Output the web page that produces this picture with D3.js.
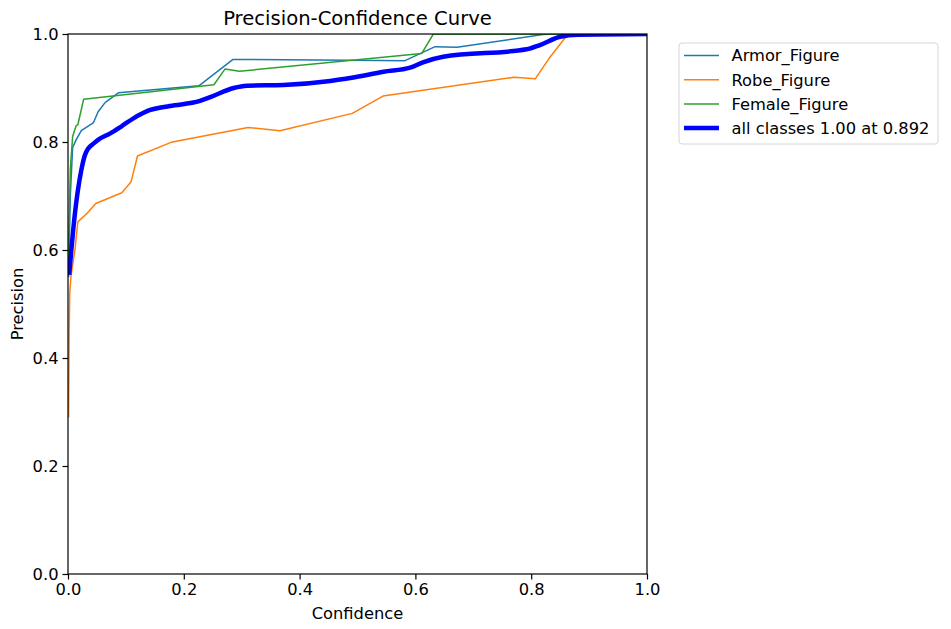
<!DOCTYPE html>
<html>
<head>
<meta charset="utf-8">
<script src="https://cdn.jsdelivr.net/npm/d3@7"></script>
<style>
  body { margin: 0; background: #fff; }
  text { font-family: "DejaVu Sans", sans-serif; fill: #000; }
</style>
</head>
<body>
<div id="chart"></div>
<script>
// confidence / precision pairs
const armorConf = [0.001, 0.004, 0.008, 0.014, 0.023, 0.044, 0.052, 0.064, 0.087, 0.226, 0.285, 0.540, 0.582, 0.634, 0.672, 0.820, 0.840, 1.0];
const armorPrec = [0.55, 0.70, 0.79, 0.804, 0.821, 0.836, 0.856, 0.873, 0.891, 0.904, 0.953, 0.951, 0.9506, 0.9765, 0.9755, 0.999, 1.0, 1.0];

const robeConf = [0.001, 0.002, 0.003, 0.005, 0.012, 0.017, 0.033, 0.048, 0.093, 0.109, 0.120, 0.178, 0.311, 0.366, 0.491, 0.544, 0.771, 0.807, 0.831, 0.860, 0.870, 1.0];
const robePrec = [0.29, 0.45, 0.52, 0.55, 0.60, 0.652, 0.668, 0.686, 0.706, 0.7265, 0.774, 0.7994, 0.827, 0.821, 0.853, 0.885, 0.920, 0.917, 0.955, 0.995, 1.0, 1.0];

const femaleConf = [0.000, 0.004, 0.008, 0.014, 0.017, 0.027, 0.252, 0.271, 0.296, 0.611, 0.631, 1.0];
const femalePrec = [0.56, 0.75, 0.81, 0.83, 0.832, 0.879, 0.906, 0.935, 0.931, 0.964, 1.0, 1.0];

const allConf = [0.002, 0.012, 0.023, 0.029, 0.035, 0.044, 0.052, 0.073, 0.093, 0.113, 0.142, 0.176, 0.228, 0.248, 0.286, 0.309, 0.372, 0.453, 0.490, 0.545, 0.591, 0.613, 0.648, 0.792, 0.815, 0.850, 0.881, 1.0];
const allPrec = [0.554, 0.668, 0.748, 0.775, 0.788, 0.797, 0.804, 0.816, 0.8296, 0.8438, 0.8593, 0.8667, 0.876, 0.884, 0.900, 0.9043, 0.9056, 0.913, 0.919, 0.930, 0.9376, 0.9476, 0.958, 0.9716, 0.9796, 0.995, 0.9987, 1.0];

const seriesNames = ["Armor_Figure", "Robe_Figure", "Female_Figure", "all classes 1.00 at 0.892"];
const ticks = [0, 0.2, 0.4, 0.6, 0.8, 1.0];

const series = [
  { name: seriesNames[0], x: armorConf, y: armorPrec, color: "#1f77b4", width: 1.5, curve: d3.curveLinear },
  { name: seriesNames[1], x: robeConf, y: robePrec, color: "#ff7f0e", width: 1.5, curve: d3.curveLinear },
  { name: seriesNames[2], x: femaleConf, y: femalePrec, color: "#2ca02c", width: 1.5, curve: d3.curveLinear },
  { name: seriesNames[3], x: allConf, y: allPrec, color: "#0000ff", width: 4.5, curve: d3.curveMonotoneX }
];

const W = 951, H = 629;
const plot = { left: 68, top: 34, right: 647, bottom: 574 };

const svg = d3.select("#chart").append("svg")
  .attr("width", W)
  .attr("height", H);

const x = d3.scaleLinear().domain([0, 1]).range([plot.left, plot.right]);
const y = d3.scaleLinear().domain([0, 1]).range([plot.bottom, plot.top]);

svg.append("defs").append("clipPath").attr("id", "plotClip")
  .append("rect")
  .attr("x", plot.left).attr("y", plot.top)
  .attr("width", plot.right - plot.left)
  .attr("height", plot.bottom - plot.top);

const lines = svg.append("g").attr("clip-path", "url(#plotClip)");
series.forEach(s => {
  const line = d3.line()
    .x(d => x(d[0]))
    .y(d => y(d[1]))
    .curve(s.curve);
  lines.append("path")
    .datum(s.x.map((c, i) => [c, s.y[i]]))
    .attr("d", line)
    .attr("fill", "none")
    .attr("stroke", s.color)
    .attr("stroke-width", s.width)
    .attr("stroke-linejoin", "round");
});

// axes
const fontSize = "16.3px";
const xAxis = svg.append("g")
  .attr("transform", `translate(0,${plot.bottom})`)
  .call(d3.axisBottom(x).tickValues(ticks).tickFormat(d3.format(".1f")).tickSize(5.5).tickPadding(4));
const yAxis = svg.append("g")
  .attr("transform", `translate(${plot.left},0)`)
  .call(d3.axisLeft(y).tickValues(ticks).tickFormat(d3.format(".1f")).tickSize(5.5).tickPadding(4));

[xAxis, yAxis].forEach(a => {
  a.select(".domain").remove();
  a.selectAll(".tick line").attr("stroke", "#000").attr("stroke-width", 1.2);
  a.selectAll(".tick text")
    .style("font-family", "DejaVu Sans, sans-serif")
    .style("font-size", fontSize)
    .attr("fill", "#000");
});

// frame
svg.append("rect")
  .attr("x", plot.left).attr("y", plot.top)
  .attr("width", plot.right - plot.left)
  .attr("height", plot.bottom - plot.top)
  .attr("fill", "none")
  .attr("stroke", "#000")
  .attr("stroke-width", 1.2);

// labels
svg.append("text")
  .attr("x", (plot.left + plot.right) / 2)
  .attr("y", 25)
  .attr("text-anchor", "middle")
  .style("font-size", "19.6px")
  .text("Precision-Confidence Curve");

svg.append("text")
  .attr("x", (plot.left + plot.right) / 2)
  .attr("y", 619)
  .attr("text-anchor", "middle")
  .style("font-size", fontSize)
  .text("Confidence");

svg.append("text")
  .attr("transform", `translate(23,${(plot.top + plot.bottom) / 2}) rotate(-90)`)
  .attr("text-anchor", "middle")
  .style("font-size", fontSize)
  .text("Precision");

// legend
const legend = svg.append("g").attr("transform", "translate(679,43)");
legend.append("rect")
  .attr("width", 259)
  .attr("height", 101)
  .attr("rx", 3)
  .attr("fill", "#fff")
  .attr("fill-opacity", 0.8)
  .attr("stroke", "#d6d6d6")
  .attr("stroke-width", 1);

series.forEach((s, i) => {
  const ly = 12.5 + i * 24.2;
  legend.append("line")
    .attr("x1", 5).attr("x2", 40)
    .attr("y1", ly).attr("y2", ly)
    .attr("stroke", s.color)
    .attr("stroke-width", s.width);
  legend.append("text")
    .attr("x", 52.5)
    .attr("y", ly)
    .attr("dy", "0.36em")
    .style("font-size", fontSize)
    .text(s.name);
});
</script>
</body>
</html>
